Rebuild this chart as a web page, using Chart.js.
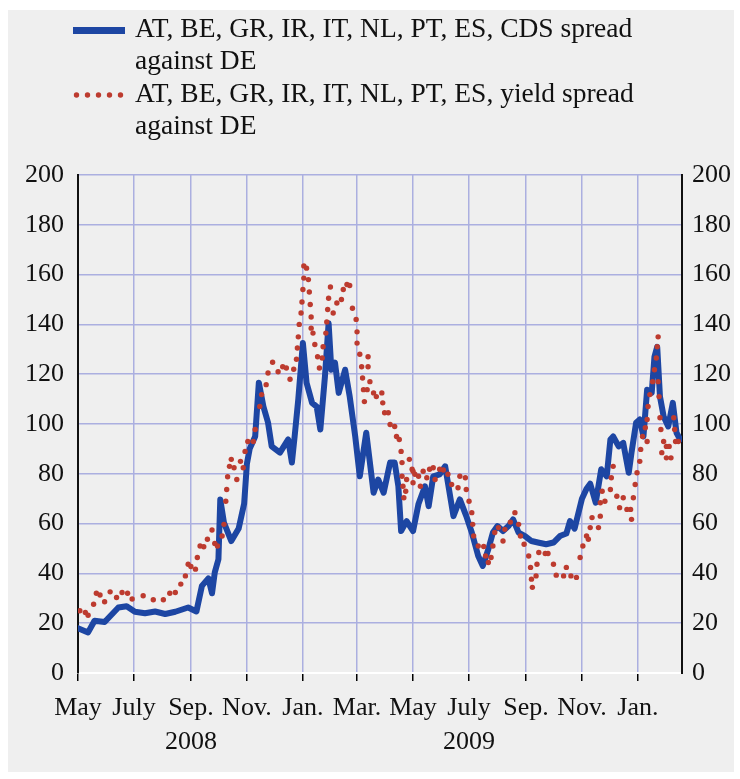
<!DOCTYPE html>
<html>
<head>
<meta charset="utf-8">
<script src="https://cdn.jsdelivr.net/npm/chart.js@4.4.1/dist/chart.umd.min.js"></script>
<style>
  html, body { margin: 0; padding: 0; background: #fff; }
  #panel { position: absolute; left: 8px; top: 10px; width: 726px; height: 762px; background: #efefef; }
  #chart { position: absolute; left: 0; top: 0; }
</style>
</head>
<body>
<div id="panel"></div>
<canvas id="chart" width="740" height="779"></canvas>
<script>
// x values are days since 1 May 2008
const tickDays = [0, 61, 123, 184, 245, 304, 365, 426, 488, 549, 610];
const tickLabels = ['May', 'July', ['Sep.', '2008'], 'Nov.', 'Jan.', 'Mar.', 'May', ['July', '2009'], 'Sep.', 'Nov.', 'Jan.'];
const yTicks = [0, 20, 40, 60, 80, 100, 120, 140, 160, 180, 200];
const legendLines = [
  ['AT, BE, GR, IR, IT, NL, PT, ES, CDS spread', 'against DE'],
  ['AT, BE, GR, IR, IT, NL, PT, ES, yield spread', 'against DE'],
];

const cdsDays = [0, 11, 18, 29, 44, 53, 62, 73, 84, 95, 106, 120, 129, 135, 142, 146, 149, 153, 155, 159,
  167, 175, 178, 181, 184, 187, 193, 197, 202, 207, 211, 220, 229, 233, 236, 240, 245, 249, 255, 260,
  264, 269, 273, 276, 280, 284, 291, 296, 302, 307, 314, 322, 327, 333, 340, 345, 349, 352, 358, 365,
  371, 378, 382, 387, 394, 400, 403, 409, 416, 423, 429, 436, 441, 447, 452, 457, 463, 469, 474, 480,
  487, 494, 501, 510, 518, 525, 532, 536, 541, 549, 554, 558, 564, 570, 576, 580, 583, 589, 594, 600,
  603, 608, 612, 616, 620, 625, 628, 631, 634, 638, 643, 648, 652, 656];
const cdsValues = [18, 16.3, 21, 20.5, 26.3, 26.8, 24.6, 24, 24.7, 23.7, 24.6, 26.3, 24.7, 35, 38, 32, 40.4, 45.7, 69.7, 60.4,
  53, 58, 63, 68, 84, 90, 95, 116.6, 107, 100.6, 91, 88.5, 93.8, 84.5, 95, 110, 132.5, 116.6, 108.5, 107,
  97.8, 119, 140.5, 121.8, 124.6, 112.5, 121.8, 111, 95, 79, 96.5, 72.4, 77.7, 72.4, 84.5, 84.5, 75, 57, 61, 57,
  68, 75, 67, 79, 79.8, 83, 76.4, 63, 69.7, 63, 56.4, 47, 43, 49.7, 56.4, 59, 57, 59, 61.7, 56.4,
  55, 53, 52.4, 51.7, 52.4, 55, 56, 61, 58, 70, 74, 76, 68.4, 81.8, 79, 93.8, 95, 91, 92.4, 80.4,
  88.5, 100.5, 101.8, 95, 113.8, 112.5, 127, 131, 111, 103, 99, 108.5, 96.5, 93.8];

const yieldDays = [2, 8, 11, 17, 20, 24, 29, 35, 42, 48, 54, 59, 71, 82, 93, 100, 106, 112, 117, 120,
  123, 128, 130, 133, 137, 141, 146, 149, 152, 157, 159, 161, 162, 163, 165, 167, 170, 173, 177, 180,
  182, 185, 191, 193, 198, 200, 205, 207, 212, 218, 223, 227, 231, 235, 238, 239, 240, 241, 243, 244,
  245, 246, 246, 249, 251, 252, 253, 254, 254, 256, 258, 261, 263, 266, 267, 270, 271, 272, 273, 275,
  278, 282, 287, 289, 293, 296, 299, 303, 304, 304, 307, 309, 310, 311, 312, 315, 316, 316, 318, 322,
  325, 331, 332, 334, 338, 340, 345, 347, 350, 352, 353, 353, 354, 355, 357, 358, 361, 364, 365, 365,
  367, 371, 373, 376, 380, 383, 387, 389, 394, 398, 403, 407, 414, 416, 422, 423, 426, 429, 430, 431,
  436, 442, 444, 447, 450, 452, 454, 458, 463, 465, 471, 476, 480, 482, 486, 491, 493, 494, 495, 499,
  500, 502, 509, 512, 518, 521, 529, 532, 537, 543, 547, 550, 554, 556, 558, 560, 567, 569, 569, 571,
  574, 580, 581, 583, 587, 590, 594, 598, 602, 603, 605, 607, 609, 612, 613, 615, 618, 620, 620, 621,
  623, 626, 628, 630, 631, 632, 632, 633, 634, 635, 636, 638, 641, 641, 644, 646, 649, 650, 651, 654];
const yieldValues = [25, 24.3, 23.2, 27.6, 32, 31.3, 28.6, 32.6, 30.3, 32.3, 32, 29.7, 31, 29.4, 29.4, 32, 32.3, 35.7, 39, 43.7,
  42.8, 41.7, 46.4, 51, 50.7, 53.7, 57.4, 52, 51, 55, 59.7, 69, 73.7, 78.8, 83, 85.8, 82.4, 77.7, 85, 82.4,
  89, 93, 93, 97.8, 107, 111.8, 115.8, 120.5, 124.8, 121, 123, 122.5, 118, 122, 126, 130.5, 135, 140, 144.6, 149,
  154, 158.6, 163.5, 162.6, 158, 153, 148, 143, 138.5, 136.5, 131.9, 127, 122.5, 126.5, 131, 136.5, 141, 146, 150.5, 155,
  144.6, 148.6, 150, 154, 156, 155.6, 146.5, 142, 137, 132.5, 128, 123, 118.5, 113.8, 109, 113.8, 127, 123, 117, 112.5,
  111, 112.5, 108.5, 104.5, 104.5, 99.8, 99, 95, 93.8, 89, 84.5, 79, 75, 70.4, 73, 77.7, 85.8, 81.8, 76.4, 81,
  79.8, 79, 75, 81, 78.4, 81.8, 82.4, 77.7, 81.8, 81.5, 79.8, 75.7, 74.4, 79, 78.4, 73.7, 69, 64.4, 59.7, 55,
  51, 50.8, 47, 44.4, 46.4, 51, 56.4, 58.4, 53, 57.7, 60.6, 64.4, 59.7, 55, 51.7, 47, 42.4, 37.7, 34.4, 39,
  43.7, 48.4, 48, 48, 43.7, 39.3, 39, 42.4, 39, 38.4, 46.4, 51, 55, 53.7, 58.4, 62.4, 58.4, 63, 68.4, 73,
  69, 73.7, 78.4, 83, 71, 66.4, 70.4, 65.7, 65.7, 61.7, 70.4, 75.7, 80.4, 85, 89.8, 95, 98.5, 93, 101.8, 107,
  111.8, 117, 121.8, 126.5, 131, 135, 117, 111, 102.5, 97.8, 88.5, 93, 91, 86.4, 91, 86.4, 102.5, 97.8, 93, 93];

const blue = '#1d46a3';
const red = '#bd3b2f';
const gridColour = '#abafe0';
const serif = '"Liberation Serif", "Times New Roman", serif';
const tickFont = { family: serif, size: 26 };

function toPoints(xs, ys) {
  return xs.map((x, i) => ({ x, y: ys[i] }));
}

// two-line legend entries, drawn on the canvas above the plot
const wrappedLegend = {
  id: 'wrappedLegend',
  afterDraw(chart) {
    const ctx = chart.ctx;
    ctx.save();
    ctx.fillStyle = blue;
    ctx.fillRect(73, 27, 52, 7);
    ctx.fillStyle = red;
    for (let i = 0; i < 5; i++) {
      ctx.beginPath();
      ctx.arc(76.5 + i * 11, 95, 2.7, 0, Math.PI * 2);
      ctx.fill();
    }
    ctx.fillStyle = '#111';
    ctx.font = '27.5px ' + serif;
    ctx.textBaseline = 'middle';
    ctx.textAlign = 'left';
    const tops = [30, 95];
    legendLines.forEach((lines, i) => {
      lines.forEach((text, j) => ctx.fillText(text, 135, tops[i] + j * 32));
    });
    ctx.restore();
  },
};

new Chart(document.getElementById('chart'), {
  type: 'line',
  data: {
    datasets: [
      {
        label: legendLines[1].join(' '),
        data: toPoints(yieldDays, yieldValues),
        showLine: false,
        pointRadius: 2.7,
        pointStyle: 'circle',
        pointBackgroundColor: red,
        pointBorderWidth: 0,
        order: 0,
      },
      {
        label: legendLines[0].join(' '),
        data: toPoints(cdsDays, cdsValues),
        borderColor: blue,
        borderWidth: 6,
        borderJoinStyle: 'round',
        borderCapStyle: 'round',
        pointRadius: 0,
        tension: 0,
        order: 1,
      },
    ],
  },
  options: {
    responsive: false,
    animation: false,
    layout: { padding: { top: 175 } },
    plugins: { legend: { display: false }, tooltip: { enabled: false } },
    scales: {
      x: {
        type: 'linear',
        min: 0,
        max: 658,
        afterFit: (s) => { s.height = 106; },
        afterBuildTicks: (s) => { s.ticks = tickDays.map((v) => ({ value: v })); },
        ticks: {
          autoSkip: false,
          maxRotation: 0,
          padding: 10,
          color: '#111',
          font: { ...tickFont, lineHeight: 1.3 },
          callback: (v, i) => tickLabels[i],
        },
        grid: { color: gridColour, lineWidth: 1.5, tickColor: '#000', tickLength: 8 },
        border: { color: '#ffffff', width: 2 },
      },
      y: {
        position: 'left',
        min: 0,
        max: 200,
        afterFit: (s) => { s.width = 78; },
        afterBuildTicks: (s) => { s.ticks = yTicks.map((v) => ({ value: v })); },
        ticks: { padding: 14, color: '#111', font: tickFont },
        grid: {
          color: (ctx) => (ctx.tick && ctx.tick.value === 0 ? 'rgba(0,0,0,0)' : gridColour),
          lineWidth: 1.5,
          drawTicks: false,
        },
        border: { color: '#111', width: 2 },
      },
      y2: {
        position: 'right',
        min: 0,
        max: 200,
        afterFit: (s) => { s.width = 58; },
        afterBuildTicks: (s) => { s.ticks = yTicks.map((v) => ({ value: v })); },
        ticks: { padding: 10, color: '#111', font: tickFont },
        grid: { drawOnChartArea: false, drawTicks: false },
        border: { color: '#111', width: 2 },
      },
    },
  },
  plugins: [wrappedLegend],
});
</script>
</body>
</html>
